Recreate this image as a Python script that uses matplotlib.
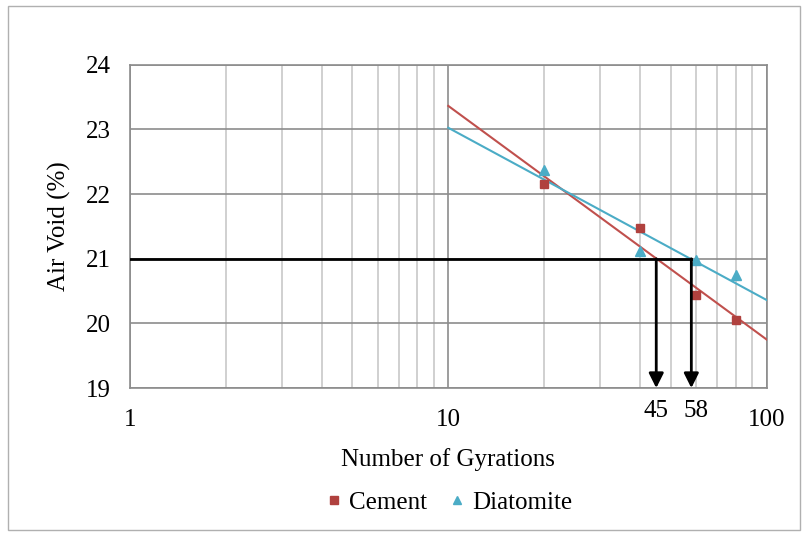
import numpy as np
import matplotlib.pyplot as plt
from matplotlib.patches import Rectangle
from matplotlib.ticker import NullFormatter, FixedLocator

plt.rcParams['font.family'] = ['Liberation Serif', 'DejaVu Serif']

# data
giros = [20, 40, 60, 80]
cimento = [22.16, 21.47, 20.44, 20.05]
diatomita = [22.37, 21.12, 20.98, 20.75]
alvo_vazios = 21
giros_alvo = [45, 58]

COR_CIM = '#C0504D'
COR_DIA = '#4BACC6'

fig = plt.figure(figsize=(8.07, 5.36), dpi=100)
ax = fig.add_axes([0.161, 0.276, 0.789, 0.603])

fig.patches.append(Rectangle((0.010, 0.011), 0.981, 0.978, transform=fig.transFigure,
                             fill=False, edgecolor='#b0b0b0', lw=1.0))

# trend lines (log fit)
xs = np.array([10, 100])
for y, cor in [(cimento, COR_CIM), (diatomita, COR_DIA)]:
    coef = np.polyfit(np.log10(giros), y, 1)
    ax.plot(xs, np.polyval(coef, np.log10(xs)), color=cor, lw=1.5, zorder=3)

ax.plot(giros, cimento, 's', color='#B0413E', ms=6, label='Cement', zorder=4)
ax.plot(giros, diatomita, '^', color=COR_DIA, ms=7, label='Diatomite', zorder=4)

# target lines and arrows
ax.plot([1, max(giros_alvo)], [alvo_vazios, alvo_vazios], color='black', lw=2, zorder=5)
for g in giros_alvo:
    ax.annotate('', xy=(g, 19), xytext=(g, alvo_vazios),
                arrowprops=dict(arrowstyle='-|>', color='black', lw=2,
                                mutation_scale=22, shrinkA=0, shrinkB=0), zorder=5)

ax.set_xscale('log')
ax.set_xlim(1, 100)
ax.set_ylim(19, 24)
ax.set_yticks([19, 20, 21, 22, 23, 24])
ax.xaxis.set_major_locator(FixedLocator([1, 10, 100]))
ax.xaxis.set_minor_locator(FixedLocator([k * d for d in (1, 10) for k in range(2, 10)]))
ax.xaxis.set_minor_formatter(NullFormatter())
ax.set_xticklabels(['1', '10', '100'])

ax.grid(True, which='major', color='#8c8c8c', lw=1.2)
ax.grid(True, which='minor', axis='x', color='#c8c8c8', lw=1.2)
ax.set_axisbelow(True)
for s in ax.spines.values():
    s.set_color('#8c8c8c')
    s.set_linewidth(1.2)

ax.tick_params(axis='both', which='both', length=0, labelsize=18)
ax.tick_params(axis='x', pad=15)
ax.tick_params(axis='y', pad=14)

for g, dx in zip(giros_alvo, [0, 2]):
    ax.text(g + dx, 18.65, str(g), ha='center', va='center', fontsize=18)

ax.set_xlabel('Number of Gyrations', fontsize=18)
ax.set_ylabel('Air Void (%)', fontsize=18)
ax.xaxis.set_label_coords(0.5, -0.186)
ax.yaxis.set_label_coords(-0.092, 0.5)

fig.legend(loc='center', bbox_to_anchor=(0.557, 0.062), ncol=2, frameon=False,
           fontsize=18, handlelength=0.6, handletextpad=0.3, columnspacing=0.9,
           markerscale=0.9)

fig.savefig('out.png', dpi=100)
